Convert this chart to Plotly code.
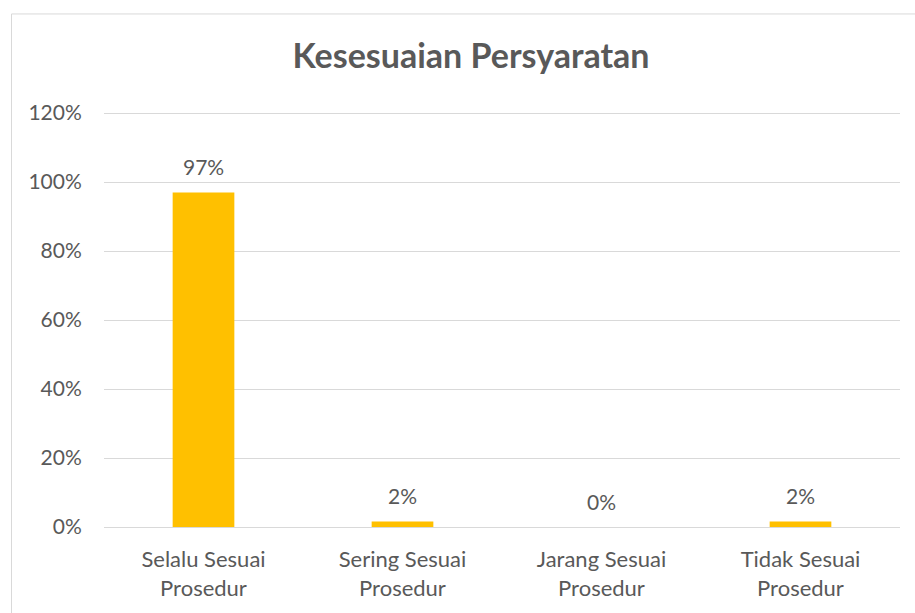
import plotly.graph_objects as go

categories = ["Selalu Sesuai<br>Prosedur", "Sering Sesuai<br>Prosedur",
              "Jarang Sesuai<br>Prosedur", "Tidak Sesuai<br>Prosedur"]
values = [0.97, 0.016, 0.0, 0.016]
y_ticks = [0, 0.2, 0.4, 0.6, 0.8, 1.0, 1.2]
y_tick_labels = ["0%", "20%", "40%", "60%", "80%", "100%", "120%"]
title_text = "Kesesuaian Persyaratan"

W, H = 915, 613
L, R, T, B = 104, 15, 112, 82
TXT = "#595959"
GRID = "#d9d9d9"
FONT = "Lato"

fig = go.Figure(go.Bar(x=categories, y=values, marker_color="#FFC000",
                       marker_line_width=0))

for c, v in zip(categories, values):
    fig.add_annotation(x=c, y=v, text=f"{v:.0%}", showarrow=False,
                       yanchor="bottom", yshift=11,
                       font=dict(family=FONT, size=21, color=TXT))

pw = W - L - R
ph = H - T - B
# chart border (left and top visible)
fig.add_shape(type="rect", xref="paper", yref="paper",
              x0=(11.5 - L) / pw, x1=(940 - L) / pw,
              y0=(H - B - 640) / ph, y1=(H - B - 13) / ph,
              line=dict(color=GRID, width=1), fillcolor="rgba(0,0,0,0)", layer="below")

fig.update_layout(
    width=W, height=H,
    margin=dict(l=L, r=R, t=T, b=B, pad=0),
    paper_bgcolor="white", plot_bgcolor="white",
    bargap=0.69,
    showlegend=False,
    title=dict(text=f"<b>{title_text}</b>", x=471 / W, xref="container",
               xanchor="center", y=1 - 56 / H, yref="container", yanchor="middle",
               font=dict(family=FONT, size=34, color=TXT)),
    font=dict(family=FONT, size=20, color=TXT),
)
fig.update_yaxes(range=[0, 1.203], tickvals=y_ticks, ticktext=y_tick_labels,
                 showgrid=True, gridcolor=GRID, gridwidth=1,
                 zeroline=True, zerolinecolor=GRID, zerolinewidth=1,
                 showline=False, ticks="outside", ticklen=17,
                 tickcolor="rgba(0,0,0,0)",
                 tickfont=dict(family=FONT, size=21, color=TXT))
fig.update_xaxes(showline=False, showgrid=False, ticks="outside", ticklen=13,
                 tickcolor="rgba(0,0,0,0)", tickangle=0,
                 tickfont=dict(family=FONT, size=22, color=TXT))

fig.write_html("out.html",
               config={"displayModeBar": False},
               post_script="document.body.style.margin='0';"
                           "document.body.style.overflow='hidden';")
